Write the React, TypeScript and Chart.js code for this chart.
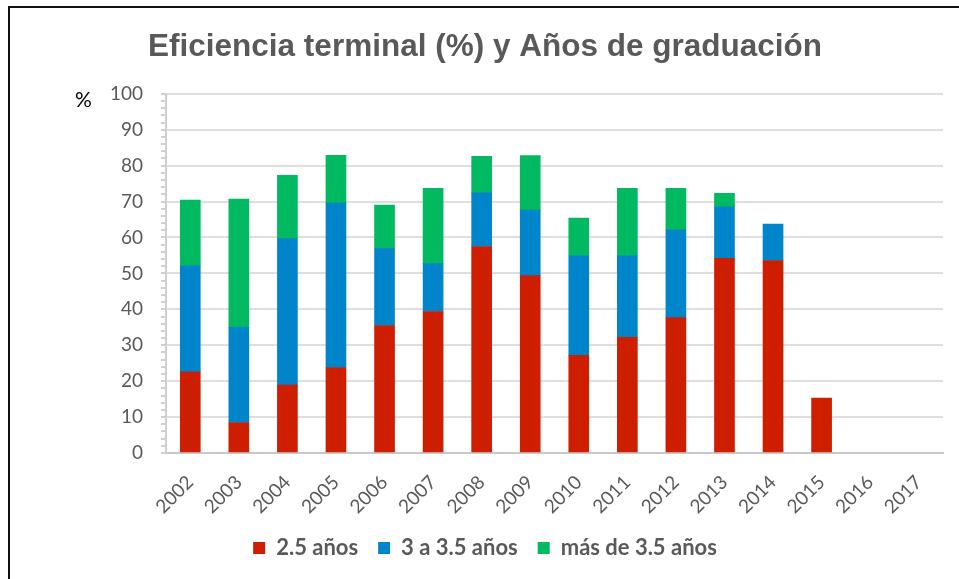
import React, { useEffect, useRef } from "react";
import { Chart, registerables } from "chart.js";

Chart.register(...registerables);

const years = ["2002", "2003", "2004", "2005", "2006", "2007", "2008", "2009", "2010", "2011", "2012", "2013", "2014", "2015", "2016", "2017"];
const s25 = [22.6, 8.5, 18.9, 23.7, 35.5, 39.4, 57.5, 49.4, 27.2, 32.2, 37.7, 54.2, 53.6, 15.3, null, null];
const s3a35 = [29.5, 26.5, 40.8, 45.9, 21.4, 13.3, 14.9, 18.2, 27.7, 22.7, 24.4, 14.3, 10.1, null, null, null];
const sMas = [18.3, 35.7, 17.6, 13.3, 12.1, 21.0, 10.2, 15.2, 10.5, 18.8, 11.6, 3.8, null, null, null, null];
const seriesNames = ["2.5 años", "3 a 3.5 años", "más de 3.5 años"];
const titleText = "Eficiencia terminal (%) y Años de graduación";
const yMin = 0;
const yMax = 100;
const yMajorStep = 10;
const yMinorStep = 2;

const W = 959;
const H = 579;

export default function App() {
  const ref = useRef<HTMLCanvasElement | null>(null);

  useEffect(() => {
    if (!ref.current) return;
    const chart = new Chart(ref.current, {
      type: "bar",
      data: {
        labels: years,
        datasets: [
          { label: seriesNames[0], data: s25, backgroundColor: "#CE1E00", barThickness: 20 },
          { label: seriesNames[1], data: s3a35, backgroundColor: "#0085CA", barThickness: 20 },
          { label: seriesNames[2], data: sMas, backgroundColor: "#00B960", barThickness: 20 },
        ],
      },
      options: {
        responsive: false,
        animation: false,
        layout: { padding: { left: 27, right: 16, top: 0, bottom: 10 } },
        plugins: {
          title: {
            display: true,
            text: titleText,
            color: "#595959",
            font: { family: "'Liberation Sans', Arial, sans-serif", size: 31.5, weight: "bold", lineHeight: 1.2 },
            padding: { top: 28, bottom: 28 },
          },
          legend: {
            position: "bottom",
            labels: {
              boxWidth: 12,
              boxHeight: 12,
              padding: 20,
              color: "#595959",
              font: { family: "Lato, sans-serif", size: 22, weight: "bold" },
            },
          },
          tooltip: { enabled: false },
        },
        scales: {
          x: {
            stacked: true,
            grid: { display: false, drawTicks: false },
            border: { display: true, color: "#c8c8c8", width: 2 },
            ticks: {
              minRotation: 45,
              maxRotation: 45,
              autoSkip: false,
              padding: 18,
              color: "#595959",
              font: { family: "Lato, sans-serif", size: 19 },
            },
            afterFit: (scale: any) => {
              scale.height = 64;
            },
          },
          y: {
            stacked: true,
            min: yMin,
            max: yMax,
            grid: {
              color: (ctx: any) => (ctx.tick && ctx.tick.value % yMajorStep === 0 ? "#dedede" : "rgba(0,0,0,0)"),
              lineWidth: 2,
              tickColor: "#d0d0d0",
              tickLength: 5,
              tickWidth: 2,
            },
            border: { display: true, color: "#d0d0d0", width: 2 },
            ticks: {
              stepSize: yMinorStep,
              autoSkip: false,
              padding: 18,
              color: "#595959",
              font: { family: "Lato, sans-serif", size: 19 },
              callback: (v: any) => (Number(v) % yMajorStep === 0 ? String(v) : ""),
            },
            afterFit: (scale: any) => {
              scale.width = 139;
            },
          },
        },
      },
    });
    return () => chart.destroy();
  }, []);

  return (
    <div style={{ position: "absolute", left: 0, top: 0, width: W, height: H, background: "#fff", overflow: "hidden" }}>
      <canvas ref={ref} width={W} height={H} style={{ position: "absolute", left: 0, top: 0 }} />
      <div
        style={{
          position: "absolute",
          left: 8,
          top: 6,
          width: W,
          height: H + 10,
          borderLeft: "2px solid #111",
          borderTop: "2px solid #111",
          pointerEvents: "none",
        }}
      />
      <div
        style={{
          position: "absolute",
          left: 75,
          top: 88,
          fontFamily: "Lato, sans-serif",
          fontSize: 21,
          lineHeight: "21px",
          color: "#000",
        }}
      >
        %
      </div>
    </div>
  );
}
